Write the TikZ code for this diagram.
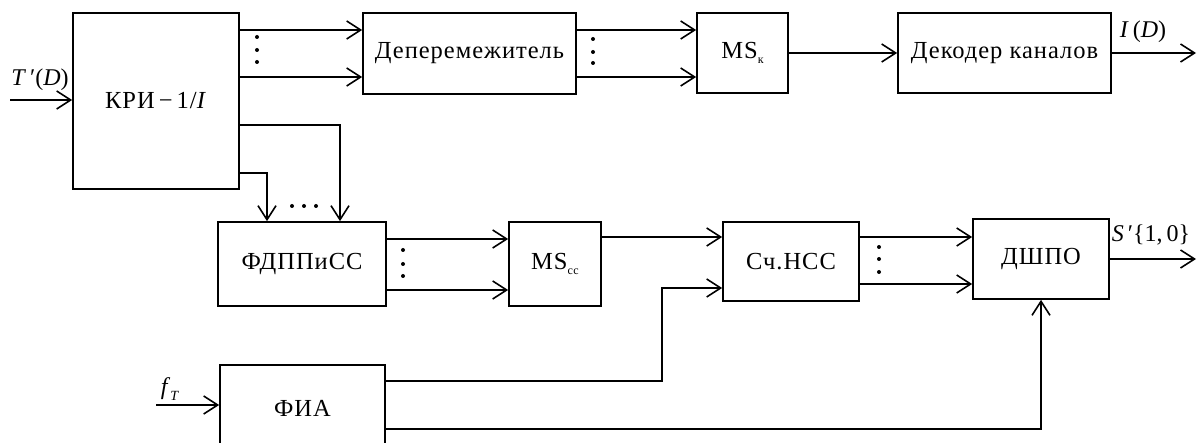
\documentclass[tikz,border=0pt]{standalone}
\usepackage{fontspec}
\setmainfont{Liberation Serif}
\usetikzlibrary{arrows.meta,calc}
\tikzset{
  blk/.style={draw, line width=1.7pt, rectangle, inner sep=0pt, font=\fontsize{24.5}{28}\selectfont\addfontfeatures{LetterSpace=4}},
  arr/.style={line width=1.7pt, -{Straight Barb[length=14pt,width=18pt,line width=1.6pt]}},
  ln/.style={line width=1.7pt},
  lbl/.style={inner sep=0pt, font=\fontsize{24}{28}\selectfont}
}
\newcommand{\sbs}[1]{\raisebox{-0.4ex}{\fontsize{12}{12}\selectfont #1}}
\begin{document}
\begin{tikzpicture}[x=1pt,y=-1pt]
\useasboundingbox (0,0) rectangle (1197,443);
\clip (0,0) rectangle (1197,443);
% blocks
\node[blk, minimum width=166pt, minimum height=176pt] (kri) at (156,101) {КРИ\,−\,1/\textit{I}};
\node[blk, minimum width=213pt, minimum height=81pt] (dep) at (469.5,53.5) {Деперемежитель};
\node[blk, minimum width=91pt, minimum height=80pt] (msk) at (742.5,53) {MS\sbs{к}};
\node[blk, minimum width=213pt, minimum height=80pt] (dec) at (1004.5,53) {Декодер каналов};
\node[blk, minimum width=168pt, minimum height=84pt] (fdp) at (302,264) {ФДППиСС};
\node[blk, minimum width=92pt, minimum height=84pt] (mscc) at (555,264) {MS\sbs{сс}};
\node[blk, minimum width=136pt, minimum height=79pt] (sch) at (791,261.5) {Сч.НСС};
\node[blk, minimum width=136pt, minimum height=80pt] (dsh) at (1041,259) {ДШПО};
\node[blk, minimum width=165pt, minimum height=95pt] (fia) at (302.5,412.5) {\raisebox{8pt}{ФИА}};
% free ends
\coordinate (tin) at (10,100);
\coordinate (idout) at (1196,53);
\coordinate (sout) at (1196,259);
\coordinate (fin) at (156,405);
% labels
\node[lbl] (tlab) at (40,80) {\textit{T}\,′(\textit{D})};
\node[lbl] (ilab) at (1143,32) {\textit{I}\,(\textit{D})};
\node[lbl] (slab) at (1151,235) {\textit{S}\,′\{1,\,0\}};
\node[lbl] (flab) at (170,389) {\textit{f}\raisebox{-0.5ex}{\fontsize{14}{14}\selectfont\textit{T}}};
% connectors
\draw[arr] (tin) -- (kri.west |- tin);
\draw[arr] (kri.east |- 0,30) -- (dep.west |- 0,30);
\draw[arr] (kri.east |- 0,77) -- (dep.west |- 0,77);
\draw[arr] (dep.east |- 0,30) -- (msk.west |- 0,30);
\draw[arr] (dep.east |- 0,77) -- (msk.west |- 0,77);
\draw[arr] (msk.east) -- (dec.west);
\draw[arr] (dec.east) -- (idout);
\draw[arr] (kri.east |- 0,125) -| (fdp.north -| 340,0);
\draw[arr] (kri.east |- 0,173) -| (fdp.north -| 267,0);
\draw[arr] (fdp.east |- 0,239) -- (mscc.west |- 0,239);
\draw[arr] (fdp.east |- 0,290) -- (mscc.west |- 0,290);
\draw[arr] (mscc.east |- 0,237) -- (sch.west |- 0,237);
\draw[arr] (fia.east |- 0,381) -| (662,288) -- (sch.west |- 0,288);
\draw[arr] (sch.east |- 0,237) -- (dsh.west |- 0,237);
\draw[arr] (sch.east |- 0,284) -- (dsh.west |- 0,284);
\draw[arr] (dsh.east) -- (sout);
\draw[arr] (fia.east |- 0,429) -| (dsh.south);
\draw[arr] (fin) -- (fia.west |- fin);
% dots
\foreach \x/\ya/\yb/\yc in {257/37/50/62, 593/39/52/63, 403/250/264/276, 879/247/259/272}{
  \fill (\x,\ya) circle (2pt);
  \fill (\x,\yb) circle (2pt);
  \fill (\x,\yc) circle (2pt);
}
\foreach \x in {292,304,316}{\fill (\x,206) circle (2pt);}
\end{tikzpicture}
\end{document}
